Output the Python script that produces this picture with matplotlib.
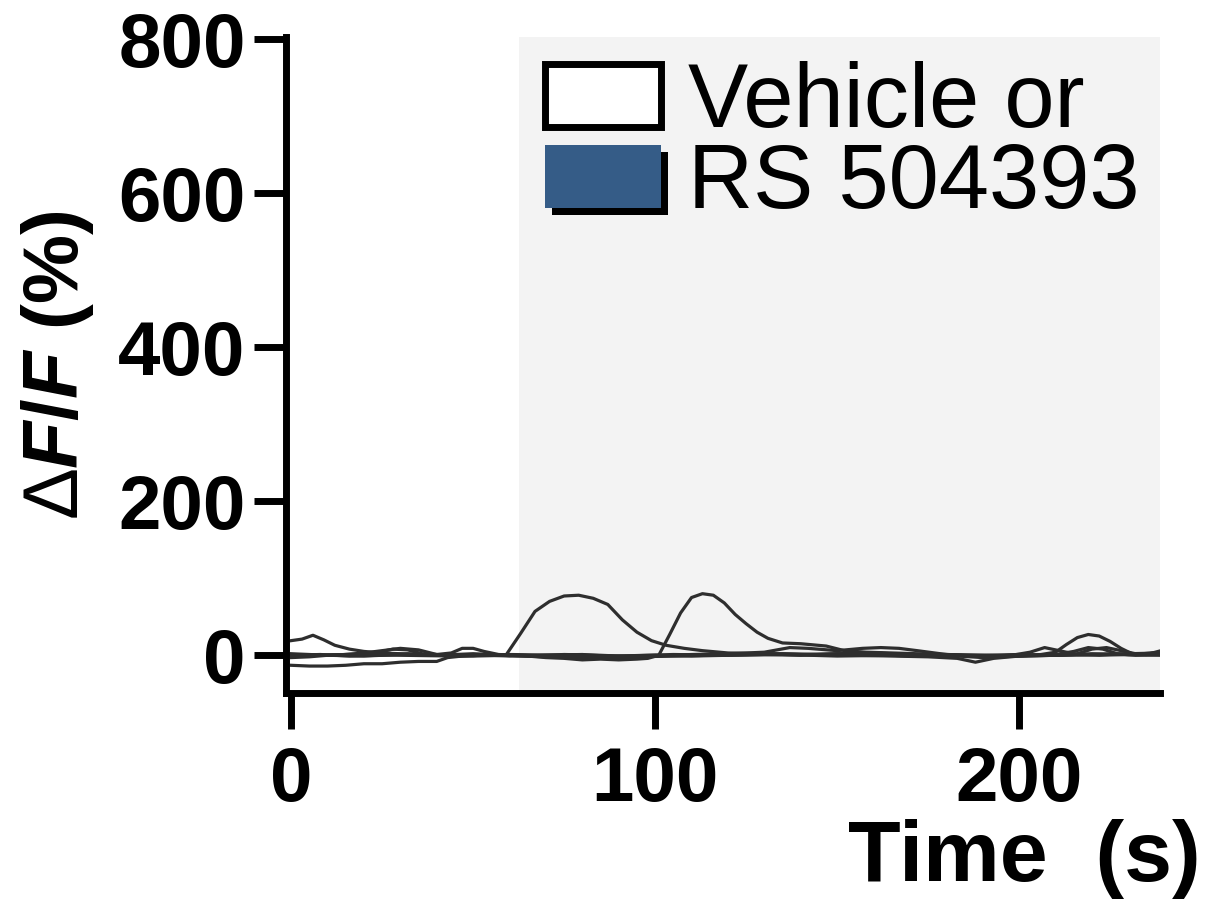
import numpy as np
import matplotlib.pyplot as plt
from matplotlib.patches import Patch
import matplotlib.patheffects as pe

plt.rcParams['font.family'] = ['Liberation Sans', 'DejaVu Sans']
plt.rcParams['mathtext.fontset'] = 'custom'
plt.rcParams['mathtext.rm'] = 'Liberation Sans:bold'
plt.rcParams['mathtext.bf'] = 'Liberation Sans:bold'
plt.rcParams['mathtext.it'] = 'Liberation Sans:italic:bold'
plt.rcParams['mathtext.sf'] = 'Liberation Sans'

# individual cell traces, dF/F (%) vs time (s)
t_a = [0, 3, 6, 9, 12, 16, 20, 25, 30, 35, 40, 45, 50, 55, 59, 63, 67, 71, 75, 79,
       83, 87, 91, 95, 99, 103, 108, 113, 120, 130, 140, 150, 160, 170, 180, 190,
       200, 210, 220, 230, 239]
v_a = [19, 21, 26, 20, 13, 8, 5, 3, 2, 1, 0, 1, 2, 1, 0, 28, 57, 70, 77, 78,
       74, 66, 46, 30, 19, 13, 9, 6, 3, 2, 1, 2, 1, 0, -1, 0,
       1, 0, 2, 1, 2]

t_b = [0, 5, 10, 15, 20, 25, 30, 35, 40, 45, 50, 55, 60, 65, 70, 75, 80, 85, 90,
       95, 98, 101, 104, 107, 110, 113, 116, 119, 122, 125, 128, 131, 135, 140,
       147, 152, 158, 165, 172, 180, 190, 200, 210, 216, 220, 224, 228, 232, 239]
v_b = [2, 1, 0, 1, 3, 6, 9, 7, 1, -1, 0, 1, 0, -1, -3, -4, -6, -5, -6,
       -5, -4, 0, 27, 55, 75, 80, 78, 68, 53, 41, 30, 22, 16, 15,
       12, 6, 4, 3, 2, 1, 0, -1, 0, 2, 8, 10, 6, 2, 1]

t_c = [0, 5, 10, 15, 20, 25, 30, 35, 40, 43, 47, 52, 58, 65, 75, 85, 95, 105,
       115, 125, 135, 145, 155, 165, 175, 183, 188, 193, 200, 210, 220, 230, 239]
v_c = [-13, -14, -14, -13, -11, -11, -9, -8, -8, -3, -1, 0, 0, -1, 1, 0, -2, -1,
       0, 1, 2, 1, 0, -1, -2, -4, -9, -4, -1, 0, 1, 2, 3]

t_d = [0, 5, 10, 15, 20, 25, 28, 32, 36, 40, 44, 47, 50, 53, 57, 62, 70, 80, 90,
       100, 110, 120, 130, 137, 142, 150, 157, 162, 167, 172, 180, 190, 198, 203,
       207, 211, 216, 222, 228, 234, 239]
v_d = [-3, -2, 0, 1, 2, 5, 8, 7, 2, 1, 3, 9, 9, 5, 1, 0, -1, -2, -3,
       -1, 1, 2, 4, 10, 9, 6, 9, 10, 9, 6, 1, -2, 0, 4,
       10, 6, 1, 0, 1, 2, 4]

t_e = [0, 8, 16, 24, 32, 40, 50, 60, 70, 80, 90, 100, 110, 120, 130, 140, 150,
       160, 170, 180, 190, 200, 206, 210, 213, 216, 219, 222, 225, 228, 231, 235, 239]
v_e = [0, 1, -1, 0, 2, 0, -1, 0, -2, -3, -1, 0, -1, 0, 1, 0, 2,
       3, 1, 0, -3, -1, 1, 4, 14, 23, 27, 25, 18, 9, 2, 1, 6]

t_f = [0, 10, 20, 30, 40, 50, 60, 70, 80, 90, 100, 110, 120, 130, 140, 150, 160,
       170, 180, 190, 200, 210, 215, 219, 223, 227, 232, 239]
v_f = [1, 0, -1, 1, 0, 1, -1, 0, 1, -2, -1, 0, 1, 2, 1, 0, 1,
       -1, 0, -1, 0, 1, 5, 10, 8, 2, 0, 1]

t_g = [0, 15, 30, 45, 60, 75, 90, 105, 120, 135, 150, 165, 180, 195, 210, 225, 239]
v_g = [-1, 1, 0, -1, 1, 0, -1, 1, 0, 1, -1, 0, 1, -1, 0, 1, 0]

traces = [(t_a, v_a), (t_b, v_b), (t_c, v_c), (t_d, v_d),
          (t_e, v_e), (t_f, v_f), (t_g, v_g)]

drug_start = 62.6
t_end = 238.7

fig = plt.figure(figsize=(12.13, 9.06), dpi=100)
ax = fig.add_axes([0.2358, 0.2351, 0.7205, 0.724])

ax.axvspan(drug_start, t_end, color='#f3f3f3', lw=0, zorder=0)
for t, v in traces:
    ax.plot(t, v, color='#2e2e2e', lw=2.3, zorder=2)

ax.set_xlim(-1.4, t_end)
ax.set_ylim(-49, 803)
ax.set_xticks([0, 100, 200])
ax.set_yticks([0, 200, 400, 600, 800])

for s in ['top', 'right']:
    ax.spines[s].set_visible(False)
for s in ['left', 'bottom']:
    ax.spines[s].set_linewidth(5)
ax.tick_params(axis='both', width=5, labelsize=55)
ax.tick_params(axis='x', length=26, pad=12)
ax.tick_params(axis='y', length=23, pad=6)
for lab in ax.get_xticklabels() + ax.get_yticklabels():
    lab.set_fontweight('bold')

ax.set_xlabel('Time  (s)', fontsize=62, fontweight='bold', ha='right', va='top')
ax.xaxis.set_label_coords(1.046, -0.192)
ax.set_ylabel(r'$\mathsf{\Delta}\mathit{F}/\mathit{F}$ (%)', fontsize=56,
              fontweight='bold', va='center')
ax.yaxis.set_label_coords(-0.261, 0.5)

handles = [Patch(facecolor='white', edgecolor='black', lw=5, label='Vehicle or'),
           Patch(facecolor='#355c87', edgecolor='none', label='RS 504393',
                 path_effects=[pe.SimplePatchShadow(offset=(5, -5), shadow_rgbFace='black', alpha=1),
                               pe.Normal()])]
ax.legend(handles=handles, loc='upper left', bbox_to_anchor=(0.296, 0.963),
          frameon=False, fontsize=65, handlelength=1.29, handleheight=0.7,
          handletextpad=0.3, labelspacing=-0.05, borderpad=0, borderaxespad=0)

fig.savefig('out.png', dpi=100)
